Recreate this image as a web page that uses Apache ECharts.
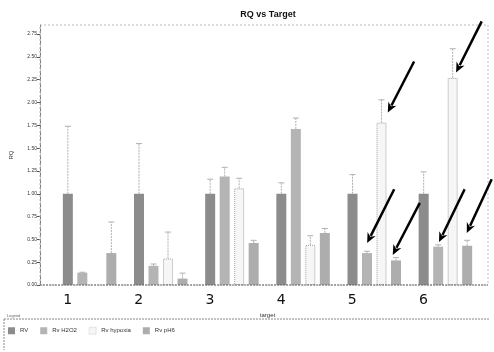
<!DOCTYPE html>
<html><head><meta charset="utf-8">
<script src="https://cdn.jsdelivr.net/npm/echarts@6/dist/echarts.min.js"></script>
<style>html,body{margin:0;padding:0;background:#fff}#c{width:494px;height:352px}</style>
</head><body><div id="c"></div>
<script>
const categories = ['1','2','3','4','5','6'];
const seriesNames = ['RV','Rv H2O2','Rv hypoxia','Rv pH6'];
const rv      = [1.00, 1.00, 1.00, 1.00, 1.00, 1.00];
const rvErr   = [1.74, 1.55, 1.16, 1.12, 1.21, 1.24];
const h2o2    = [0.135, 0.21, 1.19, 1.71, 0.35, 0.42];
const h2o2Err = [0.14, 0.23, 1.29, 1.83, 0.37, 0.44];
const hyp     = [null, 0.29, 1.06, 0.44, 1.78, 2.27];
const hypErr  = [null, 0.58, 1.17, 0.54, 2.03, 2.59];
const ph6     = [0.35, 0.07, 0.46, 0.57, 0.27, 0.43];
const ph6Err  = [0.69, 0.13, 0.49, 0.62, 0.30, 0.49];
// annotation arrows: [x tail, y tail, x head, y head] in (category index, RQ)
const arrows = [
  [4.56, 2.45, 4.19, 1.89],
  [5.51, 2.89, 5.15, 2.33],
  [4.28, 1.05, 3.90, 0.46],
  [4.64, 0.90, 4.26, 0.33],
  [5.27, 1.05, 4.91, 0.47],
  [5.65, 1.16, 5.30, 0.57]
];

const values = [rv, h2o2, hyp, ph6];
const errs = [rvErr, h2o2Err, hypErr, ph6Err];
const barColors = ['#8c8c8c', '#b4b4b4', '#f6f6f6', '#adadad'];
const BW = 10, GAP = 4.5;
const offsets = [0,1,2,3].map(k => -((4*BW+3*GAP)/2) + BW/2 + k*(BW+GAP));

const chart = echarts.init(document.getElementById('c'));
const series = [];
values.forEach((v, k) => {
  series.push({
    name: seriesNames[k], type: 'bar', data: v.map(x => x === null ? '-' : x),
    barWidth: BW, barGap: (GAP/BW*100) + '%',
    itemStyle: k === 2 ? {color: barColors[k], borderColor: '#a0a0a0', borderWidth: 1, borderType: 'dotted'} : {color: barColors[k]},
    z: 2
  });
});
values.forEach((v, k) => {
  series.push({
    type: 'custom', name: seriesNames[k], z: 3, silent: true,
    data: v.map((x, i) => x === null ? null : [i, x, errs[k][i]]).filter(d => d),
    renderItem: function (params, api) {
      const top = api.coord([api.value(0), api.value(2)]);
      const base = api.coord([api.value(0), api.value(1)]);
      const x = top[0] + offsets[k];
      return {type: 'group', children: [
        {type: 'line', shape: {x1: x, y1: base[1], x2: x, y2: top[1]}, style: {stroke: '#b0b0b0', lineWidth: 1, lineDash: [2,1]}},
        {type: 'line', shape: {x1: x-3, y1: top[1], x2: x+3, y2: top[1]}, style: {stroke: '#b0b0b0', lineWidth: 1}}
      ]};
    }
  });
});
series.push({
  type: 'custom', xAxisIndex: 1, yAxisIndex: 0, silent: true, z: 10, clip: false,
  data: arrows,
  renderItem: function (params, api) {
    const p1 = api.coord([api.value(0), api.value(1)]);
    const p2 = api.coord([api.value(2), api.value(3)]);
    const dx = p2[0] - p1[0], dy = p2[1] - p1[1];
    const len = Math.sqrt(dx*dx + dy*dy);
    const ux = dx/len, uy = dy/len;
    const hl = 10, hw = 4.5;
    const bx = p2[0] - ux*hl, by = p2[1] - uy*hl;
    return {type: 'group', children: [
      {type: 'line', shape: {x1: p1[0], y1: p1[1], x2: bx + ux*2, y2: by + uy*2}, style: {stroke: '#000', lineWidth: 2.5}},
      {type: 'polygon', shape: {points: [[p2[0], p2[1]], [bx - uy*hw, by + ux*hw], [bx + ux*3, by + uy*3], [bx + uy*hw, by - ux*hw]]}, style: {fill: '#000'}}
    ]};
  }
});

chart.setOption({
  animation: false,
  title: {text: 'RQ vs Target', left: 263, top: 5, textAlign: 'center',
    textStyle: {fontSize: 9, fontWeight: 'bold', color: '#111', fontFamily: 'Liberation Sans'}},
  grid: {left: 54, right: 13, top: 25, bottom: 67},
  legend: {
    data: seriesNames.map(n => ({name: n, itemStyle: n === 'Rv hypoxia' ? {borderWidth: 0.5, borderType: 'dotted'} : {}})),
    left: 3, top: 322, itemWidth: 7, itemHeight: 7, itemGap: 12,
    textStyle: {fontSize: 6, color: '#333', fontFamily: 'Liberation Sans'},
    icon: 'rect'
  },
  xAxis: [{
    type: 'category', data: categories,
    axisLine: {show: false}, axisTick: {show: false},
    axisLabel: {fontSize: 14, color: '#111', margin: 8, padding: [0, 44, 0, 0], fontFamily: 'DejaVu Sans'},
    name: 'target', nameLocation: 'middle', nameGap: 27,
    nameTextStyle: {fontSize: 6, color: '#333', fontFamily: 'Liberation Sans'}
  }, {
    type: 'value', min: -0.5, max: 5.5, show: false
  }],
  yAxis: {
    type: 'value', min: 0, max: 2.85, interval: 0.25, offset: 14,
    axisLine: {show: true, onZero: false, lineStyle: {color: '#777', type: 'dashed', width: 1}},
    axisTick: {show: true, length: 3, lineStyle: {color: '#555'}},
    splitLine: {show: false},
    axisLabel: {fontSize: 5, color: '#333', margin: 3, showMaxLabel: false, formatter: v => v.toFixed(2), fontFamily: 'Liberation Sans'},
    name: 'RQ', nameLocation: 'middle', nameGap: 26, nameRotate: 90,
    nameTextStyle: {fontSize: 6, color: '#333', fontFamily: 'Liberation Sans'}
  },
  graphic: [
    {type: 'rect', shape: {x: 40, y: 25, width: 448, height: 260}, z: 1,
      style: {fill: 'none', stroke: '#bbb', lineWidth: 1, lineDash: [2, 2]}},
    {type: 'line', shape: {x1: 40, y1: 285, x2: 488, y2: 285}, z: 5,
      style: {stroke: '#666', lineWidth: 1, lineDash: [2, 1]}},
    {type: 'line', shape: {x1: 4, y1: 319, x2: 490, y2: 319},
      style: {stroke: '#888', lineWidth: 1, lineDash: [2, 1]}},
    {type: 'line', shape: {x1: 4, y1: 319, x2: 4, y2: 350},
      style: {stroke: '#888', lineWidth: 1, lineDash: [2, 1]}},
    {type: 'text', left: 7, top: 314, style: {text: 'Legend', fontSize: 4, fill: '#666', fontFamily: 'Liberation Sans'}}
  ],
  series: series
});
</script></body></html>
